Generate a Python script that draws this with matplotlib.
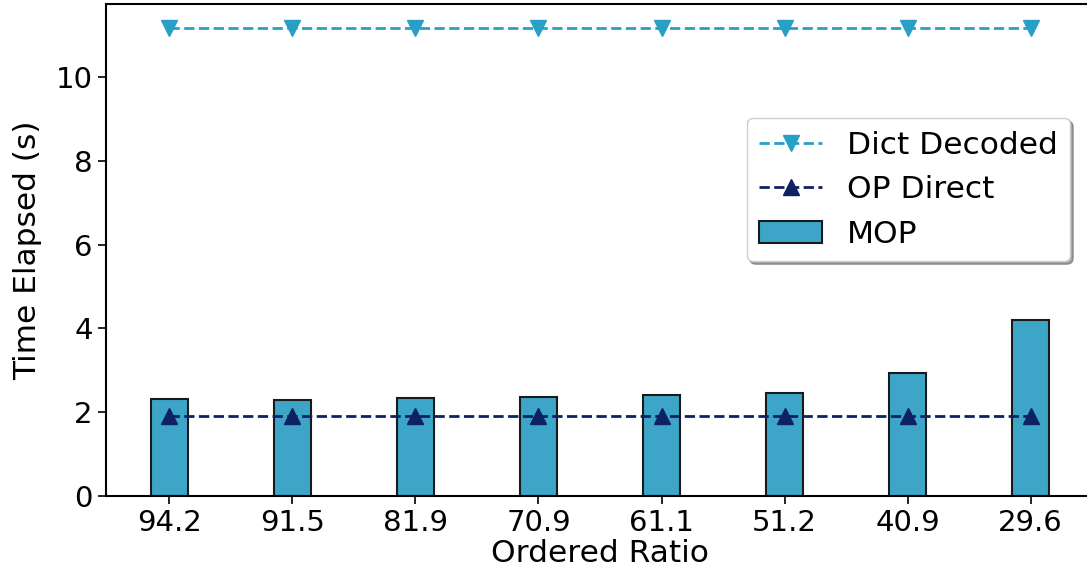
import matplotlib
matplotlib.use("Agg")
import matplotlib.pyplot as plt
import numpy as np

ratios = ["94.2", "91.5", "81.9", "70.9", "61.1", "51.2", "40.9", "29.6"]
mop = [2.31, 2.29, 2.34, 2.37, 2.41, 2.46, 2.94, 4.21]
op_direct = [1.91, 1.91, 1.91, 1.91, 1.91, 1.91, 1.91, 1.91]
dict_decoded = [11.17, 11.17, 11.17, 11.17, 11.17, 11.17, 11.17, 11.17]

plt.rcParams["font.size"] = 21

fig = plt.figure(figsize=(10.87, 5.81), dpi=100)
ax = fig.add_axes([0.0975, 0.1463, 0.909, 0.8468])

x = np.arange(len(ratios))
ax.plot(x, dict_decoded, "--v", color="#2a9fc6", lw=2, ms=11.5, label="Dict Decoded")
ax.plot(x, op_direct, "--^", color="#0e2163", lw=2, ms=11.5, label="OP Direct")
ax.bar(x, mop, width=0.3, color="#3da6c8", edgecolor="#1a1a1a", lw=1.5, label="MOP")

ax.set_xlim(-0.515, 7.515)
ax.set_ylim(0, 11.74)
ax.set_xticks(x)
ax.set_xticklabels(ratios)
ax.set_yticks([0, 2, 4, 6, 8, 10])
ax.tick_params(length=6, width=1.2, labelsize=21)
for sp in ax.spines.values():
    sp.set_linewidth(1.5)
ax.set_xlabel("Ordered Ratio", fontsize=22.5, labelpad=1)
ax.set_ylabel("Time Elapsed (s)", fontsize=22.5, labelpad=10)

ax.legend(loc="upper right", bbox_to_anchor=(0.976, 0.768), borderaxespad=0,
          shadow=True, fancybox=True, framealpha=1, fontsize=22.5)

fig.savefig("out.png", dpi=100)
